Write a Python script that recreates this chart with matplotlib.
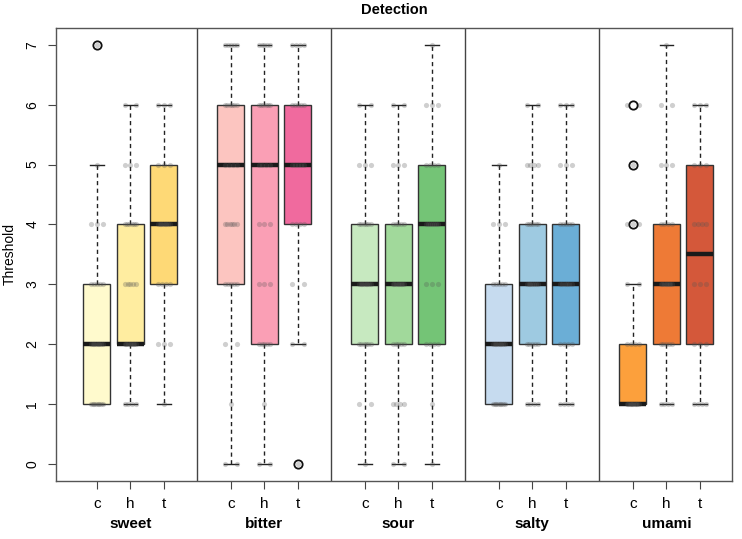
import numpy as np
import matplotlib
matplotlib.use("Agg")
import matplotlib.pyplot as plt

plt.rcParams['font.family'] = ['Liberation Sans', 'DejaVu Sans']

tastes = ["sweet", "bitter", "sour", "salty", "umami"]
groups = ["c", "h", "t"]

# box stats, order: sweet c,h,t, bitter c,h,t, ...
q1 = [1, 2, 3, 3, 2, 4, 2, 2, 2, 1, 2, 2, 1, 2, 2]
med = [2, 2, 4, 5, 5, 5, 3, 3, 4, 2, 3, 3, 1, 3, 3.5]
q3 = [3, 4, 5, 6, 6, 6, 4, 4, 5, 3, 4, 4, 2, 4, 5]
whislo = [1, 1, 1, 0, 0, 2, 0, 0, 0, 1, 1, 1, 1, 1, 1]
whishi = [5, 6, 6, 7, 7, 7, 6, 6, 7, 5, 6, 6, 3, 7, 6]
fliers = [[7], [], [], [], [], [0], [], [], [], [], [], [], [4, 5, 6], [], []]

colors = ["#FFFACD", "#FFEDA0", "#FED976",
          "#FCC5C0", "#FA9FB5", "#F06A9E",
          "#C7E9C0", "#A1D99B", "#74C476",
          "#C6DBEF", "#9ECAE1", "#6BAED6",
          "#FCA03C", "#EE7A36", "#D4583A"]

# raw observations (value: count) for the jittered points
points = [
    {1: 8, 2: 8, 3: 5, 4: 3, 5: 1, 7: 1},
    {1: 4, 2: 8, 3: 5, 4: 6, 5: 3, 6: 2},
    {1: 1, 2: 3, 3: 4, 4: 8, 5: 3, 6: 3},
    {0: 2, 1: 1, 2: 2, 3: 5, 4: 6, 5: 4, 6: 6, 7: 5},
    {0: 2, 1: 1, 2: 5, 3: 3, 4: 3, 5: 4, 6: 6, 7: 5},
    {0: 1, 2: 2, 3: 2, 4: 4, 5: 5, 6: 5, 7: 4},
    {0: 1, 1: 2, 2: 6, 3: 8, 4: 6, 5: 3, 6: 2},
    {0: 2, 1: 4, 2: 5, 3: 8, 4: 5, 5: 3, 6: 2},
    {0: 1, 1: 1, 2: 4, 3: 3, 4: 7, 5: 4, 6: 3, 7: 1},
    {1: 8, 2: 8, 3: 5, 4: 3, 5: 1},
    {1: 4, 2: 5, 3: 7, 4: 6, 5: 4, 6: 2},
    {1: 4, 2: 4, 3: 6, 4: 5, 5: 3, 6: 3},
    {1: 10, 2: 4, 3: 2, 4: 3, 5: 1, 6: 2},
    {1: 4, 2: 5, 3: 8, 4: 4, 5: 3, 6: 2, 7: 1},
    {1: 4, 2: 3, 3: 3, 4: 4, 5: 3, 6: 3},
]

positions = []
for g in range(len(tastes)):
    for k in range(len(groups)):
        positions.append(1 + 4 * g + k)

fig = plt.figure(figsize=(7.42, 5.39), dpi=100)
ax = fig.add_axes([0.0755, 0.108, 0.911, 0.840])

stats = []
for i in range(len(positions)):
    stats.append(dict(q1=q1[i], med=med[i], q3=q3[i], whislo=whislo[i],
                      whishi=whishi[i], fliers=fliers[i]))

bp = ax.bxp(stats, positions=positions, widths=0.8, patch_artist=True,
            showfliers=True, capwidths=0.4,
            boxprops=dict(edgecolor="#333333", linewidth=1.0),
            medianprops=dict(color="#1a1a1a", linewidth=3.2, solid_capstyle="butt"),
            whiskerprops=dict(color="#222222", linewidth=1.0, linestyle=(0, (3, 2.5))),
            capprops=dict(color="#222222", linewidth=1.0),
            flierprops=dict(marker="o", markerfacecolor="none", markeredgecolor="#111111",
                            markersize=6, markeredgewidth=1.3))
for patch, c in zip(bp["boxes"], colors):
    patch.set_facecolor(c)
for f in bp["fliers"]:
    f.set_zorder(7)

# jittered raw points
for pos, pts in zip(positions, points):
    for val, n in pts.items():
        offs = np.linspace(-0.17, 0.17, n) if n > 1 else np.array([0.0])
        ax.scatter(pos + offs, np.full(n, val), s=14, color="#555555",
                   alpha=0.28, linewidths=0, zorder=5)

# panel dividers
for g in range(1, len(tastes)):
    ax.axvline(4 * g, color="#444444", linewidth=1.0)

ax.set_xlim(-0.22, 19.96)
ax.set_ylim(-0.28, 7.28)
ax.set_yticks(range(8))
ax.set_yticklabels([str(v) for v in range(8)], rotation=90, va="center", fontsize=10)
ax.set_xticks(positions)
ax.set_xticklabels(groups * len(tastes), fontsize=11)
ax.tick_params(axis="both", length=6, width=0.8, color="#444444", pad=6)
for s in ax.spines.values():
    s.set_color("#555555")
    s.set_linewidth(1.0)

for g, name in enumerate(tastes):
    ax.text(2 + 4 * g, -0.08, name, transform=ax.get_xaxis_transform(),
            ha="center", va="top", fontsize=11, fontweight="bold")

ax.set_ylabel("Threshold", fontsize=10, labelpad=6)
ax.set_title("Detection", fontsize=10.5, fontweight="bold", pad=10)

fig.savefig("out.png", dpi=100)
